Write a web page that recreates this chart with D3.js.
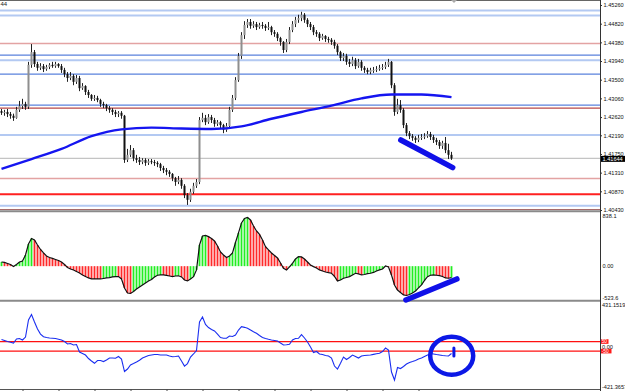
<!DOCTYPE html>
<html><head><meta charset="utf-8">
<script src="https://cdn.jsdelivr.net/npm/d3@7"></script>
<style>body{margin:0;background:#fff;overflow:hidden}svg{display:block}text{font-family:"Liberation Sans",Arial,sans-serif}</style>
</head><body><svg id="c" width="625" height="391"></svg>
<script>
// ---------- DATA ----------
const firstOpen = 1.4276;
const closes = [
1.4272,1.4274,1.4269,1.4265,1.4260,1.4279,1.4288,1.4293,1.4286,1.4385,
1.4415,1.4387,1.4378,1.4382,1.4375,1.4380,1.4385,1.4382,1.4387,1.4382,
1.4373,1.4363,1.4354,1.4359,1.4345,1.4354,1.4330,1.4335,1.4321,1.4314,
1.4305,1.4307,1.4302,1.4293,1.4290,1.4283,1.4279,1.4274,1.4269,1.4272,
1.4265,1.4161,1.4173,1.4184,1.4165,1.4161,1.4156,1.4161,1.4154,1.4158,
1.4156,1.4154,1.4151,1.4142,1.4137,1.4133,1.4128,1.4118,1.4109,1.4114,
1.4100,1.4078,1.4067,1.4086,1.4100,1.4109,1.4255,1.4260,1.4250,1.4262,
1.4255,1.4246,1.4250,1.4243,1.4232,1.4241,1.4279,1.4307,1.4349,1.4406,
1.4455,1.4479,1.4486,1.4477,1.4481,1.4474,1.4479,1.4477,1.4472,1.4474,
1.4462,1.4458,1.4448,1.4439,1.4420,1.4439,1.4467,1.4481,1.4491,1.4495,
1.4503,1.4491,1.4481,1.4474,1.4462,1.4458,1.4448,1.4453,1.4446,1.4444,
1.4439,1.4430,1.4415,1.4401,1.4406,1.4392,1.4387,1.4396,1.4382,1.4392,
1.4378,1.4373,1.4368,1.4373,1.4373,1.4375,1.4378,1.4380,1.4385,1.4392,
1.4337,1.4274,1.4290,1.4279,1.4243,1.4224,1.4217,1.4213,1.4208,1.4213,
1.4215,1.4217,1.4222,1.4215,1.4208,1.4203,1.4194,1.4201,1.4184,1.4173,
1.41644];
const highs = [
1.4281,1.4279,1.4281,1.4274,1.4270,1.4286,1.4300,1.4305,1.4298,1.4392,
1.4434,1.4420,1.4392,1.4389,1.4387,1.4385,1.4389,1.4392,1.4392,1.4389,
1.4387,1.4378,1.4368,1.4368,1.4363,1.4361,1.4359,1.4342,1.4337,1.4326,
1.4316,1.4314,1.4312,1.4305,1.4298,1.4293,1.4288,1.4283,1.4279,1.4276,
1.4276,1.4267,1.4187,1.4196,1.4189,1.4173,1.4168,1.4165,1.4165,1.4163,
1.4163,1.4161,1.4158,1.4154,1.4147,1.4142,1.4137,1.4130,1.4121,1.4123,
1.4118,1.4104,1.4083,1.4093,1.4107,1.4116,1.4262,1.4272,1.4267,1.4269,
1.4267,1.4260,1.4255,1.4253,1.4246,1.4248,1.4286,1.4314,1.4356,1.4413,
1.4462,1.4488,1.4493,1.4493,1.4488,1.4486,1.4484,1.4486,1.4481,1.4486,
1.4477,1.4467,1.4462,1.4451,1.4441,1.4446,1.4474,1.4488,1.4498,1.4503,
1.4510,1.4507,1.4495,1.4486,1.4479,1.4467,1.4462,1.4458,1.4455,1.4451,
1.4448,1.4444,1.4434,1.4418,1.4413,1.4411,1.4399,1.4404,1.4401,1.4399,
1.4396,1.4382,1.4378,1.4378,1.4380,1.4382,1.4385,1.4387,1.4392,1.4399,
1.4394,1.4342,1.4305,1.4302,1.4283,1.4248,1.4229,1.4222,1.4217,1.4220,
1.4222,1.4224,1.4229,1.4227,1.4220,1.4213,1.4208,1.4206,1.4215,1.4199,
1.4180];
const lows = [
1.4267,1.4265,1.4262,1.4258,1.4253,1.4258,1.4274,1.4281,1.4279,1.4281,
1.4378,1.4380,1.4371,1.4373,1.4368,1.4371,1.4375,1.4378,1.4378,1.4378,
1.4366,1.4356,1.4345,1.4349,1.4337,1.4340,1.4323,1.4326,1.4314,1.4307,
1.4300,1.4300,1.4297,1.4286,1.4283,1.4276,1.4272,1.4267,1.4262,1.4262,
1.4258,1.4154,1.4156,1.4168,1.4158,1.4154,1.4149,1.4151,1.4147,1.4149,
1.4151,1.4147,1.4144,1.4135,1.4130,1.4125,1.4121,1.4111,1.4100,1.4104,
1.4093,1.4071,1.4055,1.4062,1.4081,1.4095,1.4104,1.4250,1.4243,1.4246,
1.4248,1.4239,1.4241,1.4236,1.4224,1.4227,1.4236,1.4274,1.4302,1.4345,
1.4399,1.4446,1.4472,1.4470,1.4472,1.4467,1.4470,1.4470,1.4465,1.4467,
1.4455,1.4451,1.4441,1.4430,1.4413,1.4415,1.4434,1.4462,1.4474,1.4484,
1.4488,1.4484,1.4474,1.4467,1.4455,1.4451,1.4441,1.4444,1.4439,1.4437,
1.4432,1.4423,1.4408,1.4394,1.4394,1.4385,1.4380,1.4382,1.4375,1.4378,
1.4371,1.4366,1.4363,1.4363,1.4366,1.4368,1.4371,1.4373,1.4375,1.4380,
1.4330,1.4265,1.4269,1.4272,1.4236,1.4217,1.4210,1.4206,1.4201,1.4203,
1.4208,1.4210,1.4213,1.4208,1.4201,1.4196,1.4187,1.4187,1.4177,1.4163,
1.4161];
const maIndex = [0,10,20,30,40,50,60,70,80,90,100,110,120,130,140,150];
const maValues = [1.4140,1.4163,1.4187,1.4217,1.4233,1.4237,1.4235,1.4234,1.4240,1.4258,1.4274,1.4289,1.4306,1.4315,1.4315,1.4309];
const aoValues = [
70,62,45,28,-5,28,70,87,187,371,
463,438,354,279,221,170,145,129,112,95,
70,28,-22,-47,-63,-89,-114,-147,-172,-197,
-211,-214,-214,-214,-206,-197,-192,-180,-175,-175,
-214,-364,-448,-456,-423,-381,-348,-314,-281,-247,
-222,-180,-152,-147,-147,-155,-164,-175,-164,-160,
-180,-231,-247,-214,-175,-63,354,505,513,493,
463,421,338,237,187,145,170,221,396,555,
722,797,814,772,672,588,530,438,326,271,
221,179,137,53,-35,-63,-13,48,120,159,
154,120,70,20,-8,-30,-63,-80,-97,-109,
-119,-172,-247,-231,-202,-189,-175,-147,-119,-130,
-147,-139,-125,-119,-105,-80,-63,-47,3,-13,
-147,-314,-398,-439,-481,-490,-473,-448,-414,-364,
-314,-239,-175,-152,-147,-152,-159,-172,-197,-202,
-192];
const oscValues = [
71,61,50,42,34,76,81,66,97,275,
332,254,181,128,100,92,87,84,81,74,
66,50,24,29,14,19,-60,-75,-91,-127,
-153,-177,-148,-148,-159,-143,-122,-122,-125,-106,
-133,-263,-237,-195,-180,-164,-146,-122,-109,-96,
-91,-86,-86,-91,-91,-91,-101,-109,-106,-101,
-153,-206,-180,-112,-80,-44,254,306,228,196,
175,160,128,92,84,84,108,102,118,170,
205,198,188,170,152,136,113,92,81,73,
66,61,55,34,14,16,21,66,81,84,
123,87,45,-7,-65,-54,-80,-86,-96,-101,
-122,-206,-237,-177,-112,-138,-117,-91,-106,-122,
-101,-96,-93,-91,-84,-78,-73,-54,-18,-39,
-268,-352,-221,-232,-211,-185,-169,-159,-148,-133,
-122,-106,-91,-75,-80,-86,-91,-96,-99,-101,
-75];
const priceTicks = [1.45260,1.44820,1.44380,1.43940,1.43500,1.43060,1.42620,1.42190,1.41750,1.41310,1.40870,1.40430];
const aoTicks = [838.1, 0, -523.6];
const oscTicks = [431.1519, 0, -421.3657];
const oscLevels = [50, -50];
const lightBlueLevels = [1.4513,1.4501,1.4396,1.4220,1.4053];
const blueLevels = [1.4408,1.4363,1.4290];
const paleRedLevels = [1.4435,1.4117];
const darkRedLevels = [1.4283];
const redLevels = [1.4080];
const bottomLevels = [1.4044];
const currentPrice = 1.41644;
const timeTickIndex = [7,19,31,43,55,67,79,91,103,115,127,139];
// hand-drawn annotations (data coordinates)
const priceTrendLine = [[133.1,1.4208],[150.4,1.4143]];
const aoTrendLine = [[134.8,-565],[151.8,-214]];
const oscCircle = {index:150.07, value:-98};
const oscMark = [[150.8,-18],[150.8,-101]];

// ---------- CHART ----------
const svg = d3.select("#c");
const N = closes.length;
const opens = closes.map((c,i)=> i===0 ? firstOpen : closes[i-1]);
const x = d3.scaleLinear().domain([0, N-1]).range([1.5, 451.5]);
const yP = d3.scaleLinear().domain([1.40430, 1.45260]).range([210, 5]);
const yA = d3.scaleLinear().domain([-523.6, 838.1]).range([297.5, 216]);
const yO = d3.scaleLinear().domain([-421.3657, 431.1519]).range([386.7, 305]);
const AXX = 600;
const FONT = 5.6;

svg.append("rect").attr("width",625).attr("height",391).attr("fill","#fff");
const defs = svg.append("defs");
defs.append("clipPath").attr("id","cp1").append("rect").attr("x",0).attr("y",1).attr("width",AXX).attr("height",210);
defs.append("clipPath").attr("id","cp2").append("rect").attr("x",0).attr("y",212).attr("width",AXX).attr("height",88);
defs.append("clipPath").attr("id","cp3").append("rect").attr("x",0).attr("y",302).attr("width",AXX).attr("height",87);

// main panel
const g1 = svg.append("g").attr("clip-path","url(#cp1)");
function levels(arr, color, w){
  g1.selectAll(null).data(arr).enter().append("line")
    .attr("x1",0).attr("x2",AXX).attr("y1",d=>yP(d)).attr("y2",d=>yP(d))
    .attr("stroke",color).attr("stroke-width",w);
}
levels(lightBlueLevels,"#b3c9f2",2);
levels(blueLevels,"#5a82dc",1.2);
levels(paleRedLevels,"#e3a3a3",1.5);
levels(darkRedLevels,"#b84848",1.3);
levels(redLevels,"#ff2020",2);
levels(bottomLevels,"#a06060",1);
levels([currentPrice],"#c4c4c4",1.2);

// candles
const cg = g1.append("g");
cg.selectAll("line.w").data(d3.range(N)).enter().append("line")
  .attr("x1",i=>x(i)).attr("x2",i=>x(i))
  .attr("y1",i=>yP(highs[i])).attr("y2",i=>yP(lows[i]))
  .attr("stroke","#222").attr("stroke-width",1);
cg.selectAll("rect.b").data(d3.range(N)).enter().append("rect")
  .attr("x",i=>x(i)-1).attr("width",2)
  .attr("y",i=>yP(Math.max(opens[i],closes[i])))
  .attr("height",i=>Math.max(1,Math.abs(yP(opens[i])-yP(closes[i]))))
  .attr("fill",i=> closes[i]>=opens[i] ? "#8e8e8e" : "#111");

// MA line
g1.append("path").datum(maIndex.map((k,j)=>[k,maValues[j]]))
  .attr("d",d3.line().x(d=>x(d[0])).y(d=>yP(d[1])).curve(d3.curveMonotoneX))
  .attr("fill","none").attr("stroke","#1515f0").attr("stroke-width",2.4);

// annotation in price panel
svg.append("path").datum(priceTrendLine)
  .attr("d",d3.line().x(d=>x(d[0])).y(d=>yP(d[1])))
  .attr("stroke","#1010e8").attr("stroke-width",5.5).attr("stroke-linecap","round").attr("fill","none");

// panel 2: AO histogram
const g2 = svg.append("g").attr("clip-path","url(#cp2)");
g2.selectAll("rect").data(d3.range(N)).enter().append("rect")
  .attr("x",i=>x(i)-0.9).attr("width",1.8)
  .attr("y",i=>Math.min(yA(0),yA(aoValues[i])))
  .attr("height",i=>Math.abs(yA(aoValues[i])-yA(0)))
  .attr("fill",i=> (i>0 && aoValues[i]>aoValues[i-1]) || (i===0) ? "#22ee22" : "#ff2a2a");
g2.append("path").datum(d3.range(N))
  .attr("d",d3.line().x(i=>x(i)).y(i=>yA(aoValues[i])))
  .attr("fill","none").attr("stroke","#111").attr("stroke-width",1.2);

// panel 3: oscillator
const g3 = svg.append("g").attr("clip-path","url(#cp3)");
g3.selectAll("line.lv").data(oscLevels).enter().append("line")
  .attr("x1",0).attr("x2",AXX).attr("y1",d=>yO(d)).attr("y2",d=>yO(d))
  .attr("stroke","#ff1010").attr("stroke-width",1.3);
g3.append("path").datum(d3.range(N))
  .attr("d",d3.line().x(i=>x(i)).y(i=>yO(oscValues[i])))
  .attr("fill","none").attr("stroke","#1a2ef0").attr("stroke-width",1.1);

// panel borders
svg.append("line").attr("x1",0).attr("x2",AXX).attr("y1",0.5).attr("y2",0.5).attr("stroke","#666").attr("stroke-width",1);
[211.3, 300.8].forEach(yy=>{
  svg.append("line").attr("x1",0).attr("x2",AXX).attr("y1",yy).attr("y2",yy).attr("stroke","#8a8a8a").attr("stroke-width",2);
});
svg.append("line").attr("x1",0).attr("x2",AXX).attr("y1",389.5).attr("y2",389.5).attr("stroke","#555").attr("stroke-width",1);
svg.append("line").attr("x1",AXX+0.5).attr("x2",AXX+0.5).attr("y1",0).attr("y2",391).attr("stroke","#333").attr("stroke-width",1);
svg.append("path").attr("d","M451,0 L457,0 L454,3 Z").attr("fill","#aaa");

// annotations in panel 2 and 3
svg.append("path").datum(aoTrendLine)
  .attr("d",d3.line().x(d=>x(d[0])).y(d=>yA(d[1])))
  .attr("stroke","#1010e8").attr("stroke-width",5.5).attr("stroke-linecap","round").attr("fill","none");
svg.append("ellipse").attr("cx",x(oscCircle.index)).attr("cy",yO(oscCircle.value))
  .attr("rx",21.5).attr("ry",19).attr("fill","none").attr("stroke","#0c18e6").attr("stroke-width",4.5);
svg.append("path").datum(oscMark)
  .attr("d",d3.line().x(d=>x(d[0])).y(d=>yO(d[1])))
  .attr("stroke","#0c18e6").attr("stroke-width",3).attr("stroke-linecap","round");

// axes
function styleAxis(g){
  g.select(".domain").remove();
  g.selectAll(".tick line").attr("stroke","#333");
  g.selectAll(".tick text").attr("font-size",FONT).attr("fill","#111").attr("font-family","'Liberation Sans',Arial,sans-serif");
}
svg.append("g").attr("transform",`translate(${AXX},0)`)
  .call(d3.axisRight(yP).tickValues(priceTicks).tickSize(2).tickPadding(1.5).tickFormat(d3.format(".5f"))).call(styleAxis);
const fmtSimple = d => d===0 ? "0.00" : String(d);
svg.append("g").attr("transform",`translate(${AXX},0)`)
  .call(d3.axisRight(yA).tickValues(aoTicks).tickSize(0).tickPadding(2.5).tickFormat(fmtSimple)).call(styleAxis);
svg.append("g").attr("transform",`translate(${AXX},0)`)
  .call(d3.axisRight(yO).tickValues(oscTicks).tickSize(0).tickPadding(2).tickFormat(fmtSimple)).call(styleAxis);
svg.append("g").attr("transform","translate(0,389.5)")
  .call(d3.axisBottom(x).tickValues(timeTickIndex).tickSize(2.5).tickFormat(""))
  .call(g=>{g.select(".domain").remove(); g.selectAll(".tick line").attr("stroke","#444");});

// current price label
const cy = yP(currentPrice);
svg.append("rect").attr("x",AXX+1).attr("y",cy-2.6).attr("width",24).attr("height",6).attr("fill","#000");
svg.append("text").attr("x",AXX+2.5).attr("y",cy+2.4).attr("font-size",FONT).attr("fill","#fff").text(d3.format(".5f")(currentPrice));

// oscillator level labels
oscLevels.forEach(v=>{
  const yy = yO(v);
  const lbl = String(v);
  svg.append("rect").attr("x",AXX+1).attr("y",yy-2.3).attr("width",lbl.length*3+1.5).attr("height",4.6).attr("fill","#ff1a1a");
  svg.append("text").attr("x",AXX+1.7).attr("y",yy+1.7).attr("font-size",4.8).attr("fill","#fff").text(lbl);
});

// top-left title fragment
svg.append("text").attr("x",0.5).attr("y",6).attr("font-size",6).attr("fill","#222").text("44");
</script></body></html>
